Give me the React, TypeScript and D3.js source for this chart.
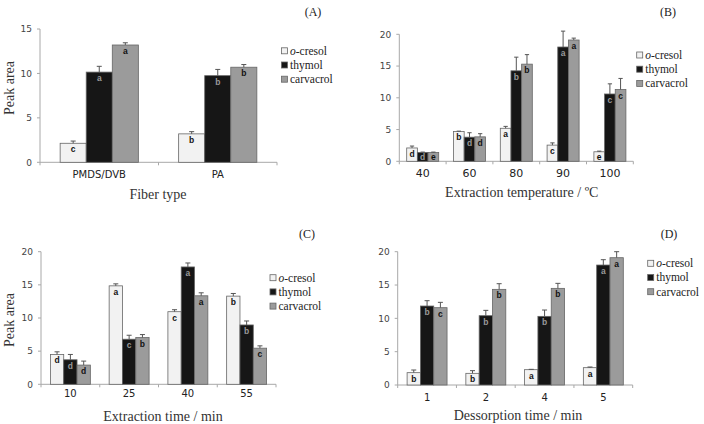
import React from "react";
import * as d3 from "d3";

const SERIES = ["o-cresol", "thymol", "carvacrol"];
const FILLS = ["#f2f2f2", "#161616", "#9b9b9b"];
const LETTER_FILLS = ["#111", "#9a9a9a", "#111"];

// (A) fiber type
const fiberTypes = ["PMDS/DVB", "PA"];
const fiberCresol = [2.14, 3.2];
const fiberThymol = [10.15, 9.75];
const fiberCarvacrol = [13.2, 10.7];
const fiberCresolErr = [0.25, 0.25];
const fiberThymolErr = [0.65, 0.7];
const fiberCarvacrolErr = [0.25, 0.3];
const fiberLetters = [["c", "b"], ["a", "b"], ["a", "b"]];

// (B) extraction temperature
const temps = ["40", "60", "80", "90", "100"];
const tempCresol = [2.1, 4.7, 5.2, 2.55, 1.5];
const tempThymol = [1.4, 3.8, 14.25, 18.0, 10.6];
const tempCarvacrol = [1.4, 3.85, 15.3, 19.1, 11.3];
const tempCresolErr = [0.3, 0.05, 0.3, 0.35, 0.1];
const tempThymolErr = [0.05, 0.7, 2.15, 2.5, 1.6];
const tempCarvacrolErr = [0.05, 0.5, 1.5, 0.3, 1.75];
const tempLetters = [
  ["d", "b", "a", "c", "e"],
  ["d", "d", "b", "a", "c"],
  ["e", "d", "b", "a", "c"],
];

// (C) extraction time
const extTimes = ["10", "25", "40", "55"];
const extCresol = [4.5, 14.85, 10.95, 13.3];
const extThymol = [3.7, 6.8, 17.7, 8.95];
const extCarvacrol = [2.9, 7.05, 13.35, 5.45];
const extCresolErr = [0.4, 0.3, 0.3, 0.4];
const extThymolErr = [0.8, 0.6, 0.6, 0.6];
const extCarvacrolErr = [0.6, 0.45, 0.45, 0.35];
const extLetters = [
  ["d", "a", "c", "b"],
  ["d", "c", "a", "b"],
  ["d", "b", "a", "c"],
];

// (D) desorption time
const desTimes = ["1", "2", "4", "5"];
const desCresol = [1.85, 1.75, 2.3, 2.6];
const desThymol = [11.85, 10.4, 10.3, 18.0];
const desCarvacrol = [11.6, 14.35, 14.5, 19.1];
const desCresolErr = [0.4, 0.4, 0.05, 0.1];
const desThymolErr = [0.8, 0.8, 0.95, 0.8];
const desCarvacrolErr = [0.8, 0.85, 0.75, 0.9];
const desLetters = [
  ["b", "b", "a", "a"],
  ["b", "b", "b", "a"],
  ["c", "b", "b", "a"],
];

const ticks15 = [0, 5, 10, 15];
const ticks20 = [0, 5, 10, 15, 20];

const SERIF = "'Liberation Serif', 'Times New Roman', serif";
const SANS = "'DejaVu Sans', Verdana, sans-serif";
const AXIS = "#a8a8a8";

type PanelProps = {
  cats: string[];
  values: number[][];
  errs: number[][];
  letters: string[][];
  yMax: number;
  yTicks: number[];
  x0: number;
  x1: number;
  yBottom: number;
  yTop: number;
  pad: number;
  tag: string;
  tagX: number;
  tagY: number;
  xTitle: string;
  xTitleX: number;
  xTitleY: number;
  yTitle?: boolean;
  yTitleY?: number;
  catY: number;
  catSize: number;
  legendX: number;
  legendY: number;
};

function Panel(p: PanelProps) {
  const x = d3.scaleBand().domain(p.cats).range([p.x0, p.x1]).paddingInner(p.pad).paddingOuter(p.pad / 2);
  const xs = d3.scaleBand().domain(SERIES).range([0, x.bandwidth()]);
  const y = d3.scaleLinear().domain([0, p.yMax]).range([p.yBottom, p.yTop]);
  const bw = xs.bandwidth();
  const cap = Math.min(5, bw * 0.4);
  const bounds = d3.range(p.cats.length + 1).map((i) => p.x0 + i * x.step());

  return (
    <g>
      {/* y axis */}
      <line x1={p.x0} x2={p.x0} y1={y(0)} y2={y(p.yMax)} stroke={AXIS} />
      {p.yTicks.map((t) => (
        <g key={t}>
          <line x1={p.x0 - 3} x2={p.x0} y1={y(t)} y2={y(t)} stroke={AXIS} />
          <text x={p.x0 - 8} y={y(t) + 3.2} fontSize={9} fontFamily={SANS} fill="#444" textAnchor="end">
            {t}
          </text>
        </g>
      ))}
      {/* x axis */}
      <line x1={p.x0} x2={p.x1} y1={y(0)} y2={y(0)} stroke={AXIS} />
      {bounds.map((b, i) => (
        <line key={i} x1={b} x2={b} y1={y(0)} y2={y(0) + 3} stroke={AXIS} />
      ))}
      {p.cats.map((c) => (
        <text
          key={c}
          x={(x(c) ?? 0) + x.bandwidth() / 2}
          y={p.catY}
          fontSize={p.catSize}
          fontFamily={SANS}
          fill="#222"
          textAnchor="middle"
        >
          {c}
        </text>
      ))}

      {/* bars, error bars, letters */}
      {SERIES.map((s, si) =>
        p.cats.map((c, ci) => {
          const v = p.values[si][ci];
          const e = p.errs[si][ci];
          const bx = (x(c) ?? 0) + (xs(s) ?? 0);
          const cx = bx + bw / 2;
          const top = y(v);
          const ly = Math.min(top + 9, p.yBottom - 1.5);
          return (
            <g key={s + c}>
              <rect x={bx} y={top} width={bw} height={y(0) - top} fill={FILLS[si]} stroke="#666" strokeWidth={0.8} />
              <line x1={cx} x2={cx} y1={top} y2={y(v + e)} stroke="#555" strokeWidth={1} />
              <line x1={cx - cap / 2} x2={cx + cap / 2} y1={y(v + e)} y2={y(v + e)} stroke="#555" strokeWidth={1} />
              <text
                x={cx}
                y={ly}
                fontSize={8.5}
                fontWeight="bold"
                fontFamily="'Liberation Sans', Arial, sans-serif"
                fill={LETTER_FILLS[si]}
                textAnchor="middle"
              >
                {p.letters[si][ci]}
              </text>
            </g>
          );
        })
      )}

      {/* titles */}
      <text x={p.xTitleX} y={p.xTitleY} fontSize={14} fontFamily={SERIF} fill="#333" textAnchor="middle">
        {p.xTitle}
      </text>
      {p.yTitle && (
        <text
          transform={`translate(13.5, ${p.yTitleY}) rotate(-90)`}
          fontSize={14}
          fontFamily={SERIF}
          fill="#333"
          textAnchor="middle"
        >
          Peak area
        </text>
      )}
      <text x={p.tagX} y={p.tagY} fontSize={12} fontFamily={SERIF} fill="#222" textAnchor="middle">
        {p.tag}
      </text>

      {/* legend */}
      {SERIES.map((s, si) => (
        <g key={s} transform={`translate(${p.legendX}, ${p.legendY + si * 14.2})`}>
          <rect x={0} y={-3} width={6} height={6} fill={FILLS[si]} stroke="#666" strokeWidth={0.8} />
          <text x={8.5} y={3.8} fontSize={11.5} fontFamily={SERIF} fill="#222">
            {si === 0 ? (
              <>
                <tspan fontStyle="italic">o</tspan>-cresol
              </>
            ) : (
              s
            )}
          </text>
        </g>
      ))}
    </g>
  );
}

export default function App() {
  return (
    <svg
      width={704}
      height={424}
      style={{ position: "absolute", left: 0, top: 0, background: "#fff" }}
    >
      <Panel
        cats={fiberTypes}
        values={[fiberCresol, fiberThymol, fiberCarvacrol]}
        errs={[fiberCresolErr, fiberThymolErr, fiberCarvacrolErr]}
        letters={fiberLetters}
        yMax={15}
        yTicks={ticks15}
        x0={40}
        x1={277}
        yBottom={162.3}
        yTop={29}
        pad={0.34}
        tag="(A)"
        tagX={313}
        tagY={16}
        xTitle="Fiber type"
        xTitleX={158}
        xTitleY={198.5}
        yTitle
        yTitleY={88}
        catY={177.5}
        catSize={10}
        legendX={281.5}
        legendY={50.8}
      />
      <Panel
        cats={temps}
        values={[tempCresol, tempThymol, tempCarvacrol]}
        errs={[tempCresolErr, tempThymolErr, tempCarvacrolErr]}
        letters={tempLetters}
        yMax={20}
        yTicks={ticks20}
        x0={399.3}
        x1={633.3}
        yBottom={161.3}
        yTop={34.3}
        pad={0.316}
        tag="(B)"
        tagX={668}
        tagY={16}
        xTitle="Extraction temperature / ºC"
        xTitleX={521.7}
        xTitleY={196.5}
        catY={177}
        catSize={11}
        legendX={636.7}
        legendY={55}
      />
      <Panel
        cats={extTimes}
        values={[extCresol, extThymol, extCarvacrol]}
        errs={[extCresolErr, extThymolErr, extCarvacrolErr]}
        letters={extLetters}
        yMax={20}
        yTicks={ticks20}
        x0={41}
        x1={276}
        yBottom={384.3}
        yTop={251.7}
        pad={0.32}
        tag="(C)"
        tagX={307}
        tagY={238}
        xTitle="Extraction time / min"
        xTitleX={163}
        xTitleY={421}
        yTitle
        yTitleY={320}
        catY={397}
        catSize={10}
        legendX={270}
        legendY={277.7}
      />
      <Panel
        cats={desTimes}
        values={[desCresol, desThymol, desCarvacrol]}
        errs={[desCresolErr, desThymolErr, desCarvacrolErr]}
        letters={desLetters}
        yMax={20}
        yTicks={ticks20}
        x0={397.7}
        x1={632.7}
        yBottom={385}
        yTop={251.7}
        pad={0.32}
        tag="(D)"
        tagX={669}
        tagY={238}
        xTitle="Dessorption time / min"
        xTitleX={518}
        xTitleY={419.5}
        catY={401}
        catSize={10}
        legendX={647.7}
        legendY={263.3}
      />
    </svg>
  );
}
